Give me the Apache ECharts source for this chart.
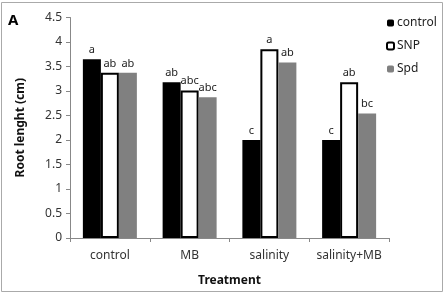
<!DOCTYPE html>
<html>
<head>
<meta charset="utf-8">
<script src="https://cdn.jsdelivr.net/npm/echarts@6/dist/echarts.min.js"></script>
<style>
  html, body { margin: 0; padding: 0; background: #fff; }
  #chart { width: 445px; height: 293px; }
</style>
</head>
<body>
<div id="chart"></div>
<script>
// treatments on the x axis
var categories = ['control', 'MB', 'salinity', 'salinity+MB'];
// root length (cm) for each treatment
var controlVals = [3.65, 3.18, 2.0, 2.0];
var snpVals = [3.37, 3.01, 3.85, 3.18];
var spdVals = [3.37, 2.87, 3.58, 2.54];
// significance letters above the bars
var controlLetters = ['a', 'ab', 'c', 'c'];
var snpLetters = ['ab', 'abc', 'a', 'ab'];
var spdLetters = ['ab', 'abc', 'ab', 'bc'];

var font = 'Noto Sans';
var chart = echarts.init(document.getElementById('chart'));

function makeSeries(name, vals, letters, style) {
  return {
    name: name,
    type: 'bar',
    barWidth: 18,
    barGap: '0%',
    itemStyle: style,
    data: vals,
    label: {
      show: true,
      position: 'top',
      distance: 4,
      fontFamily: font,
      fontSize: 11,
      color: '#222',
      formatter: function (p) { return letters[p.dataIndex]; }
    }
  };
}

var option = {
  animation: false,
  textStyle: { fontFamily: font },
  grid: { left: 70, right: 56, top: 17.5, bottom: 55 },
  graphic: [
    {
      type: 'rect',
      shape: { x: 1.5, y: 2.5, width: 441, height: 289 },
      style: { fill: 'none', stroke: '#aaa', lineWidth: 1 }
    },
    {
      type: 'text',
      left: 8, top: 13,
      style: { text: 'A', font: 'bold 15px ' + font, fill: '#000' }
    }
  ],
  legend: {
    orient: 'vertical',
    left: 381,
    top: 12,
    itemWidth: 7,
    itemHeight: 7,
    itemGap: 11,
    textStyle: { fontFamily: font, fontSize: 12, color: '#222', padding: [0, 0, 0, -2] },
    data: ['control', 'SNP', 'Spd']
  },
  xAxis: {
    type: 'category',
    data: categories,
    name: 'Treatment',
    nameLocation: 'middle',
    nameGap: 37,
    nameTextStyle: { fontFamily: font, fontSize: 12, fontWeight: 'bold', color: '#111' },
    axisLine: { lineStyle: { color: '#888' } },
    axisTick: { show: true, length: 4, interval: 0, lineStyle: { color: '#888' } },
    axisLabel: { interval: 0, fontFamily: font, fontSize: 12, color: '#333', margin: 12 }
  },
  yAxis: {
    type: 'value',
    min: 0,
    max: 4.5,
    interval: 0.5,
    name: 'Root lenght (cm)',
    nameLocation: 'middle',
    nameGap: 43,
    nameTextStyle: { fontFamily: font, fontSize: 12, fontWeight: 'bold', color: '#111' },
    splitLine: { show: false },
    axisLine: { show: true, lineStyle: { color: '#888' } },
    axisTick: { show: true, length: 4, lineStyle: { color: '#888' } },
    axisLabel: { fontFamily: font, fontSize: 12, color: '#333', margin: 8 }
  },
  series: [
    makeSeries('control', controlVals, controlLetters, { color: '#000' }),
    makeSeries('SNP', snpVals, snpLetters, { color: '#fff', borderColor: '#000', borderWidth: 2 }),
    makeSeries('Spd', spdVals, spdLetters, { color: '#808080' })
  ]
};

chart.setOption(option);
</script>
</body>
</html>
